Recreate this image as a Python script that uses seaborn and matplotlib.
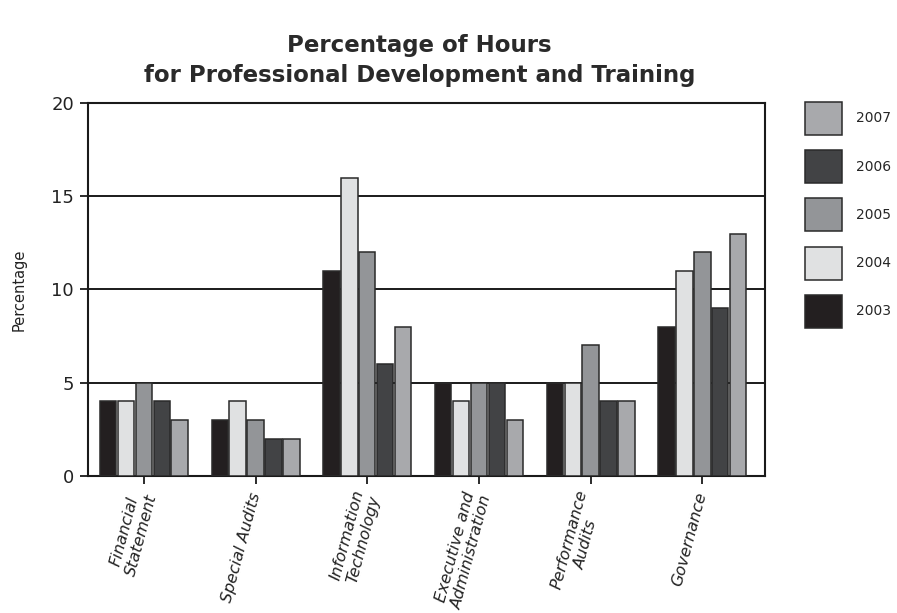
import matplotlib
matplotlib.use("Agg")
import matplotlib.pyplot as plt
import seaborn as sns
import pandas as pd
from matplotlib.patches import Patch

# Training categories and yearly shares of hours (%)
categories = [
    "Financial\nStatement",
    "Special Audits",
    "Information\nTechnology",
    "Executive and\nAdministration",
    "Performance\nAudits",
    "Governance",
]
years = ["2003", "2004", "2005", "2006", "2007"]
pct_2003 = [4, 3, 11, 5, 5, 8]
pct_2004 = [4, 4, 16, 4, 5, 11]
pct_2005 = [5, 3, 12, 5, 7, 12]
pct_2006 = [4, 2, 6, 5, 4, 9]
pct_2007 = [3, 2, 8, 3, 4, 13]
y_ticks = [0, 5, 10, 15, 20]

year_colors = ["#231f20", "#e0e1e2", "#939598", "#424345", "#a8a9ac"]

rows = []
for yr, vals in zip(years, [pct_2003, pct_2004, pct_2005, pct_2006, pct_2007]):
    for cat, v in zip(categories, vals):
        rows.append({"Category": cat, "Year": yr, "Percentage": v})
df = pd.DataFrame(rows)

sns.set_style("white")
plt.rcParams["font.family"] = ["DejaVu Sans"]

fig = plt.figure(figsize=(8.97, 6.13), dpi=100)
ax = fig.add_axes([0.0981, 0.2235, 0.7547, 0.6085])

sns.barplot(
    data=df, x="Category", y="Percentage", hue="Year",
    order=categories, hue_order=years, palette=year_colors,
    width=0.8, gap=0.08, edgecolor="#2a2a2a", linewidth=1.1,
    saturation=1, legend=False, ax=ax, zorder=3,
)

ax.set_ylim(0, 20)
ax.set_xlim(-0.5, 5.56)
ax.set_yticks(y_ticks)
ax.set_yticklabels([str(t) for t in y_ticks], fontsize=13, color="#222222")
for t in [5, 10, 15]:
    ax.axhline(t, color="#1a1a1a", linewidth=1.4, zorder=1)

for s in ax.spines.values():
    s.set_visible(True)
    s.set_color("#1a1a1a")
    s.set_linewidth(1.5)

ax.tick_params(axis="both", direction="out", length=6, width=1.3,
               color="#1a1a1a", left=True, bottom=True)
ax.tick_params(axis="x", pad=6)
ax.tick_params(axis="y", pad=4)

ax.set_xticks(range(len(categories)))
ax.set_xticklabels(categories, rotation=75, ha="right", va="center",
                   rotation_mode="anchor", fontsize=11.5, style="italic",
                   multialignment="center", color="#222222")

ax.set_xlabel("")
ax.set_ylabel("Percentage", fontsize=10.5, color="#222222", labelpad=18)

fig.text(0.468, 0.945,
         "Percentage of Hours\nfor Professional Development and Training",
         ha="center", va="top", fontsize=16.5, fontweight="bold",
         color="#2a2a2a", linespacing=1.4)

handles = [Patch(facecolor=c, edgecolor="#2a2a2a", linewidth=1.1, label=y)
           for y, c in zip(years, year_colors)][::-1]
fig.legend(handles=handles, loc="upper left", bbox_to_anchor=(0.897, 0.834),
           frameon=False, fontsize=10, handlelength=2.7, handleheight=3.28,
           labelspacing=1.1, handletextpad=1.0, borderpad=0, borderaxespad=0)

fig.savefig("out.png", dpi=100)
